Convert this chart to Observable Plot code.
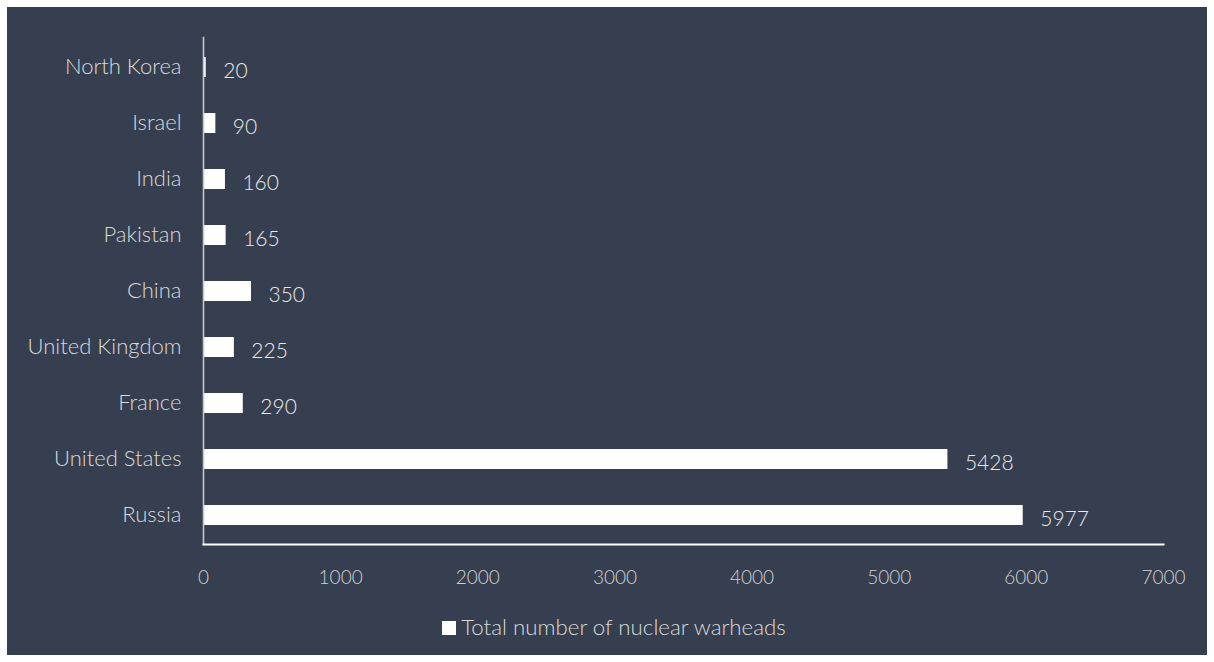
<!DOCTYPE html>
<html>
<head>
<meta charset="utf-8">
<script src="https://cdn.jsdelivr.net/npm/d3@7"></script>
<script src="https://cdn.jsdelivr.net/npm/@observablehq/plot@0.6"></script>
<style>
  html, body { margin: 0; padding: 0; background: #ffffff; }
  #card {
    position: absolute; left: 7px; top: 7px; width: 1200px; height: 648px;
    background: #363f50; font-family: Lato, "Open Sans", sans-serif; font-weight: 300;
  }
  #card svg { display: block; }
  #legend {
    position: absolute; left: 0; width: 1200px; top: 606px; text-align: center;
    color: #d9d9d9; font-size: 22.3px; font-weight: 300; padding-left: 14px; box-sizing: border-box;
  }
  #legend .sw { display: inline-block; width: 14px; height: 14px; background: #ffffff; margin-right: 5px; vertical-align: 0px; }
</style>
</head>
<body>
<div id="card">
  <div id="chart"></div>
  <div id="legend"><span class="sw"></span>Total number of nuclear warheads</div>
</div>
<script>
const countries = ["North Korea", "Israel", "India", "Pakistan", "China", "United Kingdom", "France", "United States", "Russia"];
const warheads = [20, 90, 160, 165, 350, 225, 290, 5428, 5977];
const xTicks = [0, 1000, 2000, 3000, 4000, 5000, 6000, 7000];

const data = countries.map((c, i) => ({country: c, value: warheads[i]}));

const chart = Plot.plot({
  width: 1200,
  height: 595,
  marginLeft: 196,
  marginRight: 44,
  marginTop: 30,
  marginBottom: 58,
  style: {background: "transparent", color: "#d9d9d9", fontFamily: "Lato, 'Open Sans', sans-serif", fontWeight: 300},
  x: {domain: [0, 7000], ticks: xTicks, label: null},
  y: {domain: countries, paddingInner: 0.645, paddingOuter: 0.32, label: null},
  marks: [
    Plot.barX(data, {y: "country", x: "value", fill: "#ffffff"}),
    Plot.text(data, {y: "country", x: "value", text: d => String(d.value), textAnchor: "start", dx: 17, dy: 4, fill: "#e8e8e8", fontSize: 21}),
    Plot.frame({anchor: "left", stroke: "#c8c8c8", strokeWidth: 1.6}),
    Plot.frame({anchor: "bottom", stroke: "#ffffff", strokeWidth: 2}),
    Plot.axisX({ticks: xTicks, tickSize: 0, tickPadding: 26, fontSize: 19, fill: "#d0d0d0", tickFormat: d => String(d), label: null}),
    Plot.axisY({tickSize: 0, tickPadding: 22, fontSize: 22, fill: "#d9d9d9", dy: -1, label: null})
  ]
});
document.getElementById("chart").appendChild(chart);
</script>
</body>
</html>
